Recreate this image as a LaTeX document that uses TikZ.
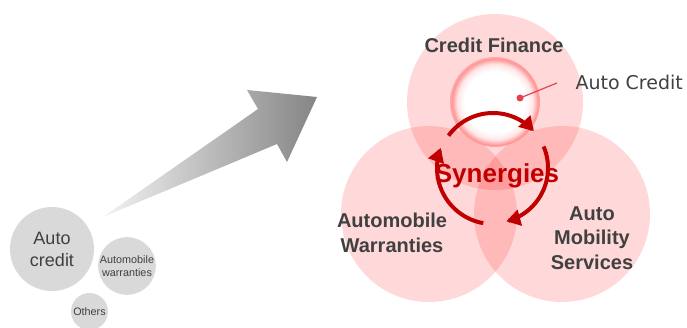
\documentclass[tikz,border=0pt]{standalone}
\usepackage{fontspec}
\setmainfont{Liberation Sans}
\newfontfamily\dejavu{DejaVu Sans}
\usetikzlibrary{arrows.meta}
\definecolor{dred}{RGB}{192,0,0}
\definecolor{txtgray}{RGB}{64,64,64}
\definecolor{circgray}{RGB}{217,217,217}
\definecolor{pinkline}{RGB}{232,64,80}
\pgfdeclareradialshading{ringshade}{\pgfpoint{0bp}{0bp}}{color(0bp)=(white); color(17bp)=(white); color(21bp)=(red!10); color(24bp)=(red!42); color(25bp)=(red!32); color(50bp)=(red!32)}
\tikzset{
  graycirc/.style={circle, fill=circgray, inner sep=0pt, align=center, text=txtgray},
  bigcirc/.style={circle, fill=red, fill opacity=0.15, minimum size=176pt, inner sep=0pt},
  lbl/.style={text=txtgray, font=\bfseries\fontsize{20}{24.5}\selectfont, align=center},
  cyc/.style={dred, line width=4pt, -{Triangle[length=14pt,width=16pt]}},
  synfont/.style={font=\bfseries\fontsize{26}{30}\selectfont, anchor=base}
}
\begin{document}
\begin{tikzpicture}[x=1pt,y=-1pt]
\useasboundingbox (0,0) rectangle (687,328);
% left small circles
\node[graycirc, minimum size=84pt, font=\fontsize{18}{22}\selectfont] (ac) at (52,249) {Auto\\credit};
\node[graycirc, minimum size=54pt, font=\fontsize{10.8}{12.5}\selectfont] (aw) at (127,266) {Automobile\\warranties};
\node[graycirc, minimum size=37pt, font=\fontsize{10.8}{12.5}\selectfont] (ot) at (89.5,311.5) {Others};
% big gray arrow
\shade[left color=black!5, right color=black!48] (103,217) -- (277,144) -- (287,162) -- (317,97) -- (247,90) -- (258,109) -- cycle;
% three circles
\node[bigcirc] (cf) at (495,102) {};
\node[bigcirc] (awc) at (429,214) {};
\node[bigcirc] (amc) at (562,214) {};
% white ring circle
\shade[shading=ringshade] (495,102) circle (45pt);
% pointer
\node[circle, fill=pinkline, inner sep=0pt, minimum size=7pt] (dot) at (520,98) {};
\coordinate (lend) at (557,83);
\draw[pinkline, line width=1.2pt] (dot.center) -- (lend);
\node[font=\dejavu\fontsize{19}{23}\selectfont, text=txtgray, anchor=base west] (act) at (572,90) {Auto Credit};
% cycle arrows
\draw[cyc] plot[domain=216:318, samples=40] ({493+55*cos(\x)},{168+55*sin(\x)});
\draw[cyc] plot[domain=-23:76, samples=40] ({493+55*cos(\x)},{168+55*sin(\x)});
\draw[cyc] plot[domain=100:201, samples=40] ({493+56*cos(\x)},{168+56*sin(\x)});
% synergies text
\node[synfont, text=dred] (syn) at (497,183) {Synergies};
% labels
\node[lbl, anchor=base] (cft) at (494,53) {Credit Finance};
\node[lbl] (awt) at (392,233) {Automobile\\Warranties};
\node[lbl] (amst) at (592,238) {Auto\\Mobility\\Services};
\end{tikzpicture}
\end{document}
